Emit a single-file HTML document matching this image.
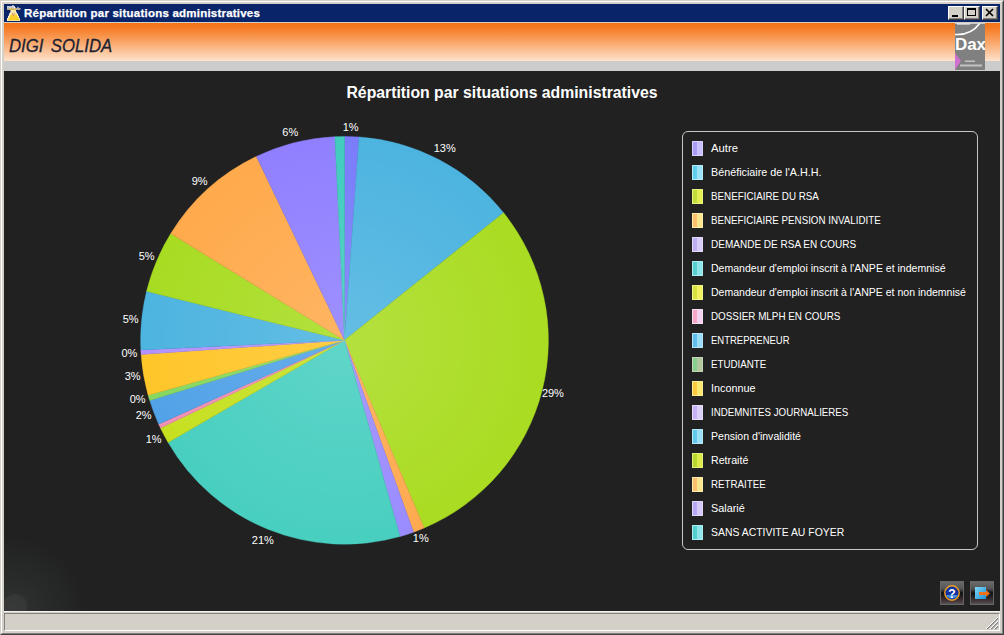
<!DOCTYPE html>
<html><head><meta charset="utf-8"><title>Répartition par situations administratives</title>
<style>
*{box-sizing:border-box;margin:0;padding:0}
html,body{width:1004px;height:635px;overflow:hidden;background:#d4d0c8;font-family:"Liberation Sans",sans-serif}
#win{position:absolute;left:0;top:0;width:1004px;height:635px;background:#d4d0c8;border-top:1px solid #d4d0c8;border-left:1px solid #d4d0c8;border-right:1px solid #404040;border-bottom:1px solid #404040}
#win2{position:absolute;left:1px;top:1px;width:1002px;height:633px;border-top:1px solid #fff;border-left:1px solid #fff;border-right:1px solid #808080;border-bottom:1px solid #808080}
#tb{position:absolute;left:4px;top:4px;width:996px;height:18px;background:#0a246a}
#tt{position:absolute;left:24px;top:5px;height:16px;line-height:16px;color:#fff;font-weight:bold;font-size:11.5px;white-space:nowrap;letter-spacing:0.22px;-webkit-text-stroke:0.25px #fff}
.wb{position:absolute;top:6px;width:16px;height:14px;background:#d4d0c8;border-top:1px solid #fff;border-left:1px solid #fff;border-right:1px solid #404040;border-bottom:1px solid #404040;box-shadow:inset -1px -1px 0 #808080}
#hdr{position:absolute;left:4px;top:23px;width:996px;height:38px;background:linear-gradient(180deg,#f47216 0%,#f57a22 12%,#f9a86c 52%,#fcd6b8 90%,#fde2cc 100%)}
#hd2{position:absolute;left:4px;top:61px;width:996px;height:10px;background:#cccccc}
#brand{position:absolute;left:9px;top:34px;font-style:italic;font-size:19px;color:#1c2230;white-space:nowrap;line-height:24px;word-spacing:3px;transform:scaleX(0.882);transform-origin:0 50%;-webkit-text-stroke:0.3px #1c2230}
#logo{position:absolute;left:955px;top:23px;width:30px;height:47px;background:#808080;overflow:hidden}
#main{position:absolute;left:4px;top:71px;width:996px;height:540px;background:#212121;overflow:hidden}
#glow{position:absolute;left:-66px;top:466px;width:148px;height:148px;background:radial-gradient(circle closest-side at 50% 50%,rgba(64,70,70,0.5) 0,rgba(56,62,62,0.3) 50%,rgba(33,33,33,0) 100%)}
#glow2{position:absolute;left:-1px;top:523px;width:24px;height:24px;border-radius:12px;background:rgba(80,80,80,0.25)}
#title{position:absolute;left:0;top:84px;width:1004px;text-align:center;color:#fff;font-weight:bold;font-size:15.78px;line-height:18px;white-space:nowrap}
.pl{position:absolute;width:40px;text-align:center;color:#fff;font-size:11px;line-height:14px;white-space:nowrap}
#lg{position:absolute;left:682px;top:131px;width:296px;height:419px;border:1px solid #c6c6c6;border-radius:6px}
.li{position:absolute;left:9px;height:15px;white-space:nowrap}
.sw{position:absolute;left:0;top:0;width:11px;height:15px;border:1px solid #fff}
.lt{position:absolute;left:19px;top:0;line-height:15px;font-size:11px;color:#fff;transform-origin:0 50%;display:block}
.ib{position:absolute;top:581px;width:24px;height:24px;background:linear-gradient(180deg,#6a6a6a 0,#555 30%,#111 50%,#1a1a1a 60%,#4a3a40 90%,#555 100%);border:1px solid #666}
#sb{position:absolute;left:4px;top:613px;width:996px;height:18px;border-top:1px solid #808080;border-left:1px solid #808080;border-right:1px solid #fff;border-bottom:1px solid #fff;background:#d4d0c8}
</style></head><body>
<div id="win"></div><div id="win2"></div>
<div id="tb"></div>
<svg style="position:absolute;left:6px;top:5px" width="16" height="16" viewBox="0 0 16 16"><rect x="1" y="1" width="8" height="2.4" fill="#c4c8d4"/><rect x="6" y="0.3" width="2" height="1.2" fill="#d8dce0"/><rect x="8" y="2" width="1.4" height="1.4" fill="#fff"/><rect x="11.5" y="1.8" width="1" height="1.4" fill="#e8e8f0"/><path d="M1 3.2h14l-1 1.6H1z" fill="#ecd9a8"/><rect x="3" y="3.6" width="7" height="1" fill="#e8c040"/><rect x="4.5" y="5" width="5.5" height="3.2" fill="#f6dfa4"/><path d="M5 6.5h5.2l1 2 .8.4v1.6l1 .6v1.6l1 .8V16H1v-2.6l1-.8v-1.6l1-.6v-1.6l1-.8z" fill="#fff4d8"/><path d="M5.6 7.6h4l4.4 7.9H1.8z" fill="#f8cf2c"/><path d="M5.6 7.6h4l1.2 2.4H4.4z" fill="#f8dc90"/><rect x="6" y="8.4" width="1" height="1" fill="#a070c0"/><rect x="8" y="8.4" width="1" height="1" fill="#a0b060"/><rect x="7" y="9.4" width="1" height="1" fill="#d05070"/><rect x="10.5" y="14" width="2" height="1" fill="#c8d820"/></svg>
<div id="tt">Répartition par situations administratives</div>
<div class="wb" style="left:948px"><svg width="14" height="12" style="position:absolute;left:0;top:0"><rect x="3" y="8" width="6" height="2" fill="#000"/></svg></div>
<div class="wb" style="left:964px"><svg width="14" height="12" style="position:absolute;left:0;top:0"><rect x="2.5" y="1.5" width="8" height="7" fill="none" stroke="#000"/><rect x="2" y="1" width="9" height="2" fill="#000"/></svg></div>
<div class="wb" style="left:982px"><svg width="14" height="12" style="position:absolute;left:0;top:0"><path d="M3 2l7 7M10 2l-7 7" stroke="#000" stroke-width="1.6"/></svg></div>
<div id="hdr"></div><div id="hd2"></div>
<div id="brand">DIGI SOLIDA</div>
<div id="logo"><svg width="30" height="47" viewBox="0 0 30 47"><path d="M0 11.5 Q16 12.5 25 0" fill="none" stroke="#fff" stroke-width="1.6"/><path d="M2 0h13v1.6H2z" fill="#eee"/><path d="M0 0h30v0.8H0z" fill="#ddd"/><text x="0" y="26.8" font-family="Liberation Sans" font-weight="bold" font-size="16" fill="#fff" textLength="31" lengthAdjust="spacingAndGlyphs">Dax</text><path d="M0 30l6 8-6 9z" fill="#d070d0"/><rect x="10" y="37.5" width="10" height="1.5" fill="#ddd" opacity=".7"/><rect x="5" y="41.5" width="22" height="2" fill="#ddd" opacity=".7"/></svg></div>
<div id="main"><div id="glow"></div><div id="glow2"></div></div>
<div style="position:absolute;left:4px;top:611px;width:996px;height:1px;background:#f2f1ee"></div>
<div id="title">Répartition par situations administratives</div>
<svg style="position:absolute;left:0;top:0" width="1004" height="635" viewBox="0 0 1004 635">
<defs><radialGradient id="hl" cx="344.5" cy="340.3" r="203.9" gradientUnits="userSpaceOnUse"><stop offset="0" stop-color="#fff" stop-opacity="0.13"/><stop offset="0.6" stop-color="#fff" stop-opacity="0.05"/><stop offset="1" stop-color="#fff" stop-opacity="0"/></radialGradient></defs>
<path d="M344.5 340.3L344.50 136.40A203.9 203.9 0 0 1 359.08 136.92Z" fill="#7a7cfa" stroke="#7a7cfa" stroke-width="0.4"/>
<path d="M344.5 340.3L359.08 136.92A203.9 203.9 0 0 1 503.63 212.81Z" fill="#4db4e0" stroke="#4db4e0" stroke-width="0.4"/>
<path d="M344.5 340.3L503.63 212.81A203.9 203.9 0 0 1 424.17 527.99Z" fill="#aadc22" stroke="#aadc22" stroke-width="0.4"/>
<path d="M344.5 340.3L424.17 527.99A203.9 203.9 0 0 1 413.57 532.15Z" fill="#ffaa50" stroke="#ffaa50" stroke-width="0.4"/>
<path d="M344.5 340.3L413.57 532.15A203.9 203.9 0 0 1 400.02 536.50Z" fill="#9a8cff" stroke="#9a8cff" stroke-width="0.4"/>
<path d="M344.5 340.3L400.02 536.50A203.9 203.9 0 0 1 168.10 442.56Z" fill="#48cfc0" stroke="#48cfc0" stroke-width="0.4"/>
<path d="M344.5 340.3L168.10 442.56A203.9 203.9 0 0 1 160.46 428.08Z" fill="#c6e020" stroke="#c6e020" stroke-width="0.4"/>
<path d="M344.5 340.3L160.46 428.08A203.9 203.9 0 0 1 158.66 424.21Z" fill="#f28fb4" stroke="#f28fb4" stroke-width="0.4"/>
<path d="M344.5 340.3L158.66 424.21A203.9 203.9 0 0 1 149.72 400.59Z" fill="#52a2e8" stroke="#52a2e8" stroke-width="0.4"/>
<path d="M344.5 340.3L149.72 400.59A203.9 203.9 0 0 1 148.11 395.13Z" fill="#86d860" stroke="#86d860" stroke-width="0.4"/>
<path d="M344.5 340.3L148.11 395.13A203.9 203.9 0 0 1 141.10 354.52Z" fill="#ffc62a" stroke="#ffc62a" stroke-width="0.4"/>
<path d="M344.5 340.3L141.10 354.52A203.9 203.9 0 0 1 140.83 349.91Z" fill="#b392ff" stroke="#b392ff" stroke-width="0.4"/>
<path d="M344.5 340.3L140.83 349.91A203.9 203.9 0 0 1 146.57 291.32Z" fill="#4db4e0" stroke="#4db4e0" stroke-width="0.4"/>
<path d="M344.5 340.3L146.57 291.32A203.9 203.9 0 0 1 170.74 233.61Z" fill="#a8dc22" stroke="#a8dc22" stroke-width="0.4"/>
<path d="M344.5 340.3L170.74 233.61A203.9 203.9 0 0 1 256.40 156.42Z" fill="#ffaa4c" stroke="#ffaa4c" stroke-width="0.4"/>
<path d="M344.5 340.3L256.40 156.42A203.9 203.9 0 0 1 334.89 136.63Z" fill="#9080ff" stroke="#9080ff" stroke-width="0.4"/>
<path d="M344.5 340.3L334.89 136.63A203.9 203.9 0 0 1 344.50 136.40Z" fill="#42cbbf" stroke="#42cbbf" stroke-width="0.4"/>
<circle cx="344.5" cy="340.3" r="203.9" fill="url(#hl)"/>
</svg>
<div class="pl" style="left:330.6px;top:120px">1%</div>
<div class="pl" style="left:424.7px;top:141px">13%</div>
<div class="pl" style="left:532.9px;top:386px">29%</div>
<div class="pl" style="left:400.8px;top:531px">1%</div>
<div class="pl" style="left:242.8px;top:533px">21%</div>
<div class="pl" style="left:133.7px;top:432px">1%</div>
<div class="pl" style="left:123.7px;top:408px">2%</div>
<div class="pl" style="left:117.6px;top:392px">0%</div>
<div class="pl" style="left:112.7px;top:369px">3%</div>
<div class="pl" style="left:109.4px;top:346px">0%</div>
<div class="pl" style="left:110.6px;top:312px">5%</div>
<div class="pl" style="left:126.6px;top:249px">5%</div>
<div class="pl" style="left:179.7px;top:174px">9%</div>
<div class="pl" style="left:270.3px;top:125px">6%</div>
<div id="lg"><div class="li" style="top:9px"><span class="sw" style="border-color:#d6d0ff;background:linear-gradient(90deg,#a89cf5 0,#a89cf5 38%,#c9c1ff 50%,#c9c1ff 100%)"></span><span class="lt" style="transform:scaleX(1.0228)">Autre</span></div>
<div class="li" style="top:33px"><span class="sw" style="border-color:#b4eaf9;background:linear-gradient(90deg,#62cdea 0,#62cdea 38%,#9be4f7 50%,#9be4f7 100%)"></span><span class="lt" style="transform:scaleX(0.9796)">Bénéficiaire de l'A.H.H.</span></div>
<div class="li" style="top:57px"><span class="sw" style="border-color:#e9f27d;background:linear-gradient(90deg,#c2dc3a 0,#c2dc3a 38%,#e2ee52 50%,#e2ee52 100%)"></span><span class="lt" style="transform:scaleX(0.8917)">BENEFICIAIRE DU RSA</span></div>
<div class="li" style="top:81px"><span class="sw" style="border-color:#fcebaa;background:linear-gradient(90deg,#fbbf70 0,#fbbf70 38%,#fbe58e 50%,#fbe58e 100%)"></span><span class="lt" style="transform:scaleX(0.8880)">BENEFICIAIRE PENSION INVALIDITE</span></div>
<div class="li" style="top:105px"><span class="sw" style="border-color:#e2d9fa;background:linear-gradient(90deg,#bfaef3 0,#bfaef3 38%,#d9cdf9 50%,#d9cdf9 100%)"></span><span class="lt" style="transform:scaleX(0.9103)">DEMANDE DE RSA EN COURS</span></div>
<div class="li" style="top:129px"><span class="sw" style="border-color:#aaecef;background:linear-gradient(90deg,#58cfd0 0,#58cfd0 38%,#8ee6ea 50%,#8ee6ea 100%)"></span><span class="lt" style="transform:scaleX(0.9568)">Demandeur d'emploi inscrit à l'ANPE et indemnisé</span></div>
<div class="li" style="top:153px"><span class="sw" style="border-color:#f3f387;background:linear-gradient(90deg,#d6e040 0,#d6e040 38%,#f0f060 50%,#f0f060 100%)"></span><span class="lt" style="transform:scaleX(0.9565)">Demandeur d'emploi inscrit à l'ANPE et non indemnisé</span></div>
<div class="li" style="top:177px"><span class="sw" style="border-color:#f6def3;background:linear-gradient(90deg,#f5a6c4 0,#f5a6c4 38%,#f3d3f0 50%,#f3d3f0 100%)"></span><span class="lt" style="transform:scaleX(0.8967)">DOSSIER MLPH EN COURS</span></div>
<div class="li" style="top:201px"><span class="sw" style="border-color:#b4e4f9;background:linear-gradient(90deg,#62bdea 0,#62bdea 38%,#9bdcf7 50%,#9bdcf7 100%)"></span><span class="lt" style="transform:scaleX(0.8628)">ENTREPRENEUR</span></div>
<div class="li" style="top:225px"><span class="sw" style="border-color:#c6d5b7;background:linear-gradient(90deg,#86cf8c 0,#86cf8c 38%,#b4c8a0 50%,#b4c8a0 100%)"></span><span class="lt" style="transform:scaleX(0.8876)">ETUDIANTE</span></div>
<div class="li" style="top:249px"><span class="sw" style="border-color:#fced93;background:linear-gradient(90deg,#fbc840 0,#fbc840 38%,#fbe870 50%,#fbe870 100%)"></span><span class="lt" style="transform:scaleX(0.9823)">Inconnue</span></div>
<div class="li" style="top:273px"><span class="sw" style="border-color:#e4dbfa;background:linear-gradient(90deg,#c4b0f5 0,#c4b0f5 38%,#dccff9 50%,#dccff9 100%)"></span><span class="lt" style="transform:scaleX(0.8847)">INDEMNITES JOURNALIERES</span></div>
<div class="li" style="top:297px"><span class="sw" style="border-color:#b4e7f9;background:linear-gradient(90deg,#62c8ea 0,#62c8ea 38%,#9be0f7 50%,#9be0f7 100%)"></span><span class="lt" style="transform:scaleX(0.9584)">Pension d'invalidité</span></div>
<div class="li" style="top:321px"><span class="sw" style="border-color:#e4ef78;background:linear-gradient(90deg,#b8d630 0,#b8d630 38%,#dcea4c 50%,#dcea4c 100%)"></span><span class="lt" style="transform:scaleX(0.9688)">Retraité</span></div>
<div class="li" style="top:345px"><span class="sw" style="border-color:#fcebaa;background:linear-gradient(90deg,#fbbf70 0,#fbbf70 38%,#fbe58e 50%,#fbe58e 100%)"></span><span class="lt" style="transform:scaleX(0.8865)">RETRAITEE</span></div>
<div class="li" style="top:369px"><span class="sw" style="border-color:#e0d7fa;background:linear-gradient(90deg,#b8a8f3 0,#b8a8f3 38%,#d6caf9 50%,#d6caf9 100%)"></span><span class="lt" style="transform:scaleX(0.9854)">Salarié</span></div>
<div class="li" style="top:393px"><span class="sw" style="border-color:#aaecef;background:linear-gradient(90deg,#54cfd0 0,#54cfd0 38%,#8ee6ea 50%,#8ee6ea 100%)"></span><span class="lt" style="transform:scaleX(0.9474)">SANS ACTIVITE AU FOYER</span></div></div>
<div class="ib" style="left:940px"><svg width="22" height="22" viewBox="0 0 22 22" style="position:absolute;left:0;top:0"><circle cx="11" cy="11" r="7.2" fill="#1030a0" stroke="#f0a020" stroke-width="1.4"/><path d="M5 13a7 7 0 0 0 12 0z" fill="#4090e0"/><text x="11" y="15.5" text-anchor="middle" font-family="Liberation Sans" font-weight="bold" font-size="12" fill="#fff">?</text></svg></div>
<div class="ib" style="left:970px"><svg width="22" height="22" viewBox="0 0 22 22" style="position:absolute;left:0;top:0"><defs><linearGradient id="bx" x1="0" y1="0" x2="1" y2="1"><stop offset="0" stop-color="#80d8f8"/><stop offset="1" stop-color="#2090d0"/></linearGradient></defs><rect x="4" y="5" width="11" height="12" fill="url(#bx)"/><path d="M8 10h7v-2l4 3.5-4 3.5v-2H8z" fill="#f07018"/></svg></div>
<div id="sb"></div>
<svg style="position:absolute;left:986px;top:617px" width="13" height="13" viewBox="0 0 13 13"><path d="M12 1L1 12M12 5L5 12M12 9L9 12" stroke="#808080" stroke-width="1.4"/><path d="M12 0L0 12M12 4L4 12M12 8L8 12" stroke="#fff" stroke-width="1"/></svg>
</body></html>
